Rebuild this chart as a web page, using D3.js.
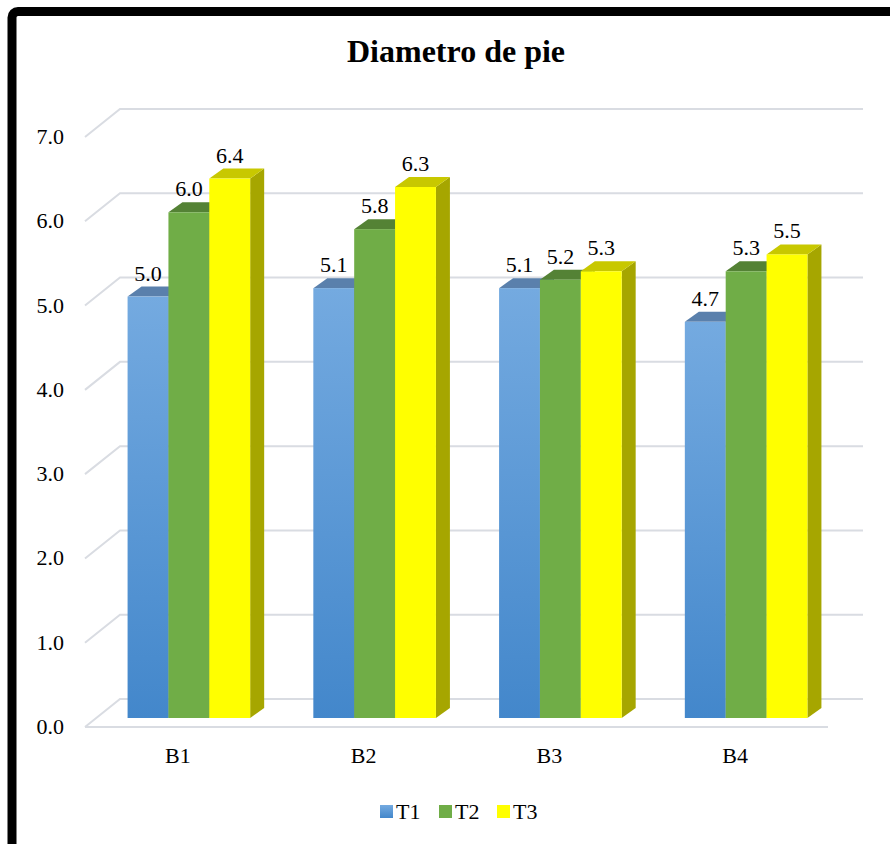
<!DOCTYPE html>
<html>
<head>
<meta charset="utf-8">
<script src="https://cdn.jsdelivr.net/npm/d3@7/dist/d3.min.js"></script>
<style>
  html, body { margin: 0; padding: 0; background: #fff; }
  svg { display: block; font-family: "Liberation Serif", "Times New Roman", serif; }
</style>
</head>
<body>
<div id="chart"></div>
<script>
// Bar chart, fake 3D (Excel-style clustered columns).
const categories = ['B1', 'B2', 'B3', 'B4'];
const seriesNames = ['T1', 'T2', 'T3'];
const t1Values = [5.0, 5.1, 5.1, 4.7];
const t2Values = [6.0, 5.8, 5.2, 5.3];
const t3Values = [6.4, 6.3, 5.3, 5.5];
const yTicks = [0, 1, 2, 3, 4, 5, 6, 7];

const W = 890, H = 844;
const series = [t1Values, t2Values, t3Values];

// front plane of the floor; back wall sits at wallOff, bars at barOff with depth barDepth
const wallOff = { dx: 35, dy: -28 };
const barOff = { dx: 11, dy: -9 };
const barDepth = { dx: 14, dy: -10 };

const colors = [
  { top: '#5A80AC', side: '#3F6E9E', grad: ['#74AAE0', '#4387CB'] },
  { front: '#70AD47', top: '#548235', side: '#507E32' },
  { front: '#FFFF00', top: '#C8C800', side: '#A6A600' }
];

const svg = d3.select('#chart').append('svg')
  .attr('width', W).attr('height', H);

const defs = svg.append('defs');
const g0 = defs.append('linearGradient').attr('id', 'blueGrad')
  .attr('x1', 0).attr('y1', 0).attr('x2', 0).attr('y2', 1);
g0.append('stop').attr('offset', '0%').attr('stop-color', colors[0].grad[0]);
g0.append('stop').attr('offset', '100%').attr('stop-color', colors[0].grad[1]);

// frame
svg.append('rect')
  .attr('x', 12).attr('y', 11.5).attr('width', W + 20).attr('height', H + 20)
  .attr('rx', 6)
  .attr('fill', 'none').attr('stroke', '#000').attr('stroke-width', 9);

svg.append('text')
  .attr('x', 456).attr('y', 62)
  .attr('text-anchor', 'middle')
  .attr('font-size', 32).attr('font-weight', 'bold')
  .text('Diametro de pie');

const x = d3.scaleBand().domain(categories).range([85, 828])
  .paddingInner(0.34).paddingOuter(0.17);
const xs = d3.scaleBand().domain(d3.range(seriesNames.length)).range([0, x.bandwidth()]);
const y = d3.scaleLinear().domain([0, 7]).range([727, 137]);

// gridlines: side stub + back wall line
const grid = svg.append('g').attr('stroke', '#D9DCE2').attr('stroke-width', 2).attr('fill', 'none');
yTicks.forEach(t => {
  grid.append('path')
    .attr('d', `M85,${y(t)} L${85 + wallOff.dx},${y(t) + wallOff.dy} L${828 + wallOff.dx},${y(t) + wallOff.dy}`);
});
grid.append('line')
  .attr('x1', 85).attr('x2', 828).attr('y1', y(0)).attr('y2', y(0));

svg.append('g').selectAll('text').data(yTicks).join('text')
  .attr('x', 64).attr('y', d => y(d) + 7)
  .attr('text-anchor', 'end').attr('font-size', 22)
  .text(d => d.toFixed(1));

svg.append('g').selectAll('text').data(categories).join('text')
  .attr('x', d => x(d) + x.bandwidth() / 2).attr('y', 763)
  .attr('text-anchor', 'middle').attr('font-size', 22)
  .text(d => d);

// bars
const bars = svg.append('g');
categories.forEach((c, ci) => {
  series.forEach((vals, si) => {
    const v = vals[ci];
    const x0 = x(c) + xs(si) + barOff.dx;
    const x1 = x0 + xs.bandwidth();
    const yb = y(0) + barOff.dy;
    const yt = y(v) + barOff.dy;
    const col = colors[si];
    const grp = bars.append('g');
    // side
    grp.append('path')
      .attr('d', `M${x1},${yb} L${x1 + barDepth.dx},${yb + barDepth.dy} L${x1 + barDepth.dx},${yt + barDepth.dy} L${x1},${yt} Z`)
      .attr('fill', col.side);
    // top
    grp.append('path')
      .attr('d', `M${x0},${yt} L${x0 + barDepth.dx},${yt + barDepth.dy} L${x1 + barDepth.dx},${yt + barDepth.dy} L${x1},${yt} Z`)
      .attr('fill', col.top);
    // front
    grp.append('rect')
      .attr('x', x0).attr('y', yt).attr('width', x1 - x0).attr('height', yb - yt)
      .attr('fill', si === 0 ? 'url(#blueGrad)' : col.front);
    grp.append('text')
      .attr('x', (x0 + x1) / 2).attr('y', yt - 16)
      .attr('text-anchor', 'middle').attr('font-size', 22)
      .text(v.toFixed(1));
  });
});

// legend
const legendX = [380, 439, 497];
const lg = svg.append('g');
seriesNames.forEach((n, i) => {
  lg.append('rect')
    .attr('x', legendX[i]).attr('y', 805).attr('width', 13).attr('height', 13)
    .attr('fill', i === 0 ? 'url(#blueGrad)' : colors[i].front);
  lg.append('text')
    .attr('x', legendX[i] + 16).attr('y', 819)
    .attr('font-size', 22)
    .text(n);
});
</script>
</body>
</html>
